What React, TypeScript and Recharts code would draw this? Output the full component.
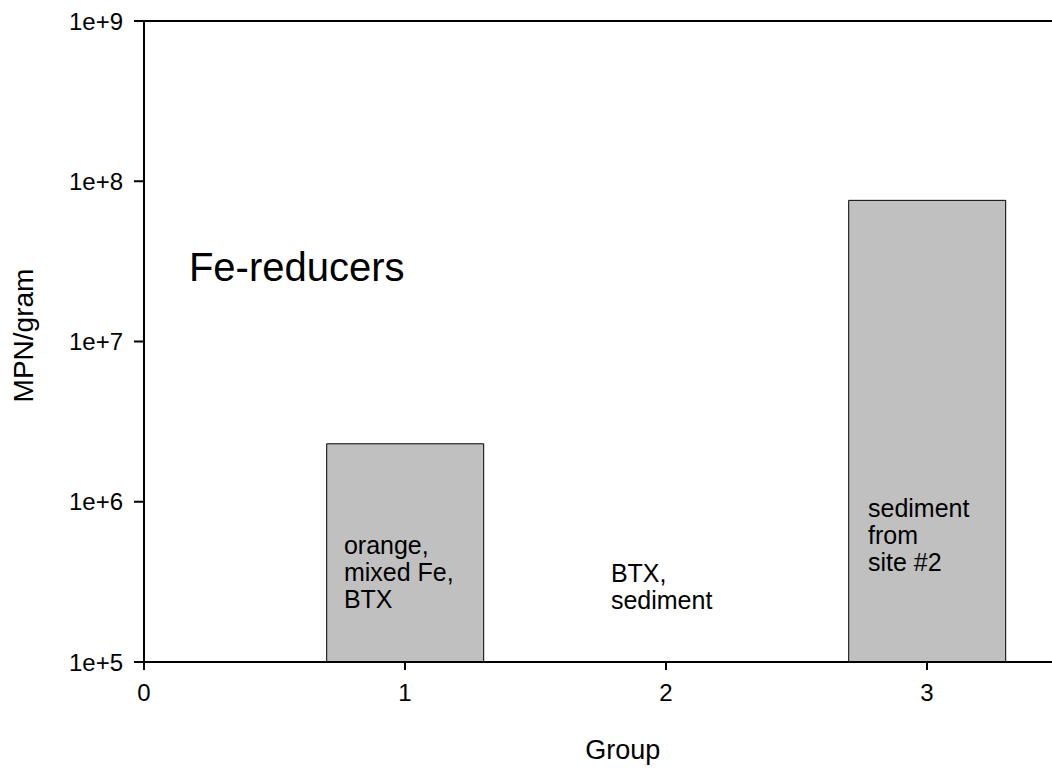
import React from "react";
import {
  BarChart,
  Bar,
  XAxis,
  YAxis,
  ReferenceLine,
  ReferenceDot,
} from "recharts";

const groups = [1, 2, 3];
const mpnPerGram = [2.3e6, null, 7.6e7];
const xTicks = [0, 1, 2, 3];
const yTicks = [1e5, 1e6, 1e7, 1e8, 1e9];

// text notes: anchor (group, value) for the first line, then the lines
const noteX = [0.766, 1.789, 2.774];
const noteY = [5.4e5, 3.6e5, 9.1e5];
const noteLines = [
  ["orange,", "mixed Fe,", "BTX"],
  ["BTX,", "sediment"],
  ["sediment", "from", "site #2"],
];

const FONT = "'Liberation Sans', Arial, sans-serif";

const data = groups.map((g, i) => ({ group: g, mpn: mpnPerGram[i] }));

const fmtTick = (v: number) => "1e+" + Math.round(Math.log10(v));

function multiLine(lines: string[]) {
  return (props: any) => {
    const { x, y } = props.viewBox;
    return (
      <text
        x={x}
        y={y}
        fontFamily={FONT}
        fontSize={25}
        fill="#000"
        dominantBaseline="central"
      >
        {lines.map((l, i) => (
          <tspan key={i} x={x} dy={i === 0 ? 0 : 27}>
            {l}
          </tspan>
        ))}
      </text>
    );
  };
}

function titleLabel(props: any) {
  const { x, y } = props.viewBox;
  return (
    <text
      x={x}
      y={y}
      fontFamily={FONT}
      fontSize={40}
      fill="#000"
      dominantBaseline="central"
    >
      Fe-reducers
    </text>
  );
}

function yTitle(props: any) {
  const { y, height } = props.viewBox;
  const cx = 23;
  const cy = y + height / 2 - 6;
  return (
    <text
      x={cx}
      y={cy}
      transform={`rotate(-90 ${cx} ${cy})`}
      textAnchor="middle"
      dominantBaseline="central"
      fontFamily={FONT}
      fontSize={28}
      fill="#000"
    >
      MPN/gram
    </text>
  );
}

export default function App() {
  return (
    <div
      style={{
        position: "absolute",
        left: 0,
        top: 0,
        width: 1052,
        height: 773,
        overflow: "hidden",
        background: "#fff",
      }}
    >
      <BarChart
        width={1070}
        height={773}
        data={data}
        margin={{ top: 21, right: 12.5, bottom: 0, left: 0 }}
        barCategoryGap="20%"
      >
        <XAxis
          dataKey="group"
          type="number"
          domain={[0, 3.5]}
          ticks={xTicks}
          allowDataOverflow
          height={111}
          stroke="#000"
          strokeWidth={2}
          tickSize={8}
          tickMargin={14}
          tick={{ fill: "#000", fontSize: 24, fontFamily: FONT }}
          label={{
            value: "Group",
            position: "insideBottom",
            offset: 14,
            dx: 22,
            fill: "#000",
            fontSize: 27,
            fontFamily: FONT,
          }}
        />
        <YAxis
          scale="log"
          domain={[1e5, 1e9]}
          ticks={yTicks}
          allowDataOverflow
          width={144}
          stroke="#000"
          strokeWidth={2}
          tickSize={10}
          tickMargin={11}
          tickFormatter={fmtTick}
          tick={{ fill: "#000", fontSize: 24, fontFamily: FONT }}
          label={yTitle}
        />
        <ReferenceLine y={1e9} stroke="#000" strokeWidth={2} />
        <Bar
          dataKey="mpn"
          fill="#c0c0c0"
          stroke="#000"
          strokeWidth={1}
          isAnimationActive={false}
        />
        <ReferenceDot
          x={0.172}
          y={2.9e7}
          r={0}
          stroke="none"
          label={titleLabel}
        />
        {noteLines.map((lines, i) => (
          <ReferenceDot
            key={i}
            x={noteX[i]}
            y={noteY[i]}
            r={0}
            stroke="none"
            label={multiLine(lines)}
          />
        ))}
      </BarChart>
    </div>
  );
}
